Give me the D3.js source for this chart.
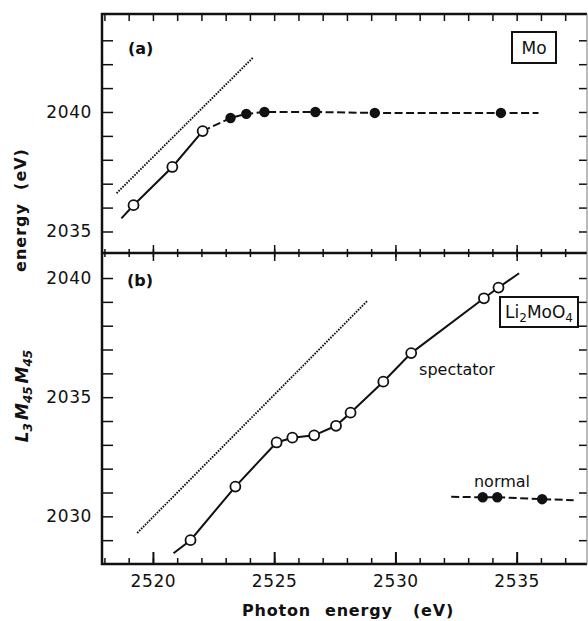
<!DOCTYPE html>
<html>
<head>
<meta charset="utf-8">
<script src="https://cdn.jsdelivr.net/npm/d3@7"></script>
<style>
  body { margin: 0; background: #fff; }
  svg { display: block; }
  text { font-family: "DejaVu Sans", sans-serif; fill: #111; }
</style>
</head>
<body>
<svg width="588" height="621"></svg>
<script>
// panel (a): Mo
const aLineX = [2518.7, 2519.2, 2520.8, 2522.05]
const aLineY = [2035.55, 2036.1, 2037.7, 2039.2]
const aDashX = [2522.05, 2523.2, 2523.85, 2524.6, 2526.7, 2529.15, 2534.35, 2535.9]
const aDashY = [2039.2, 2039.75, 2039.92, 2040.0, 2040.0, 2039.96, 2039.96, 2039.96]
const aDotX = [2518.5, 2524.15]
const aDotY = [2036.6, 2042.3]

// panel (b): Li2MoO4
const bSpecX = [2520.85, 2521.55, 2523.4, 2525.1, 2525.75, 2526.65, 2527.55, 2528.15, 2529.5, 2530.65, 2533.65, 2534.25, 2535.1]
const bSpecY = [2028.45, 2029.0, 2031.25, 2033.1, 2033.3, 2033.4, 2033.8, 2034.35, 2035.65, 2036.85, 2039.15, 2039.6, 2040.2]
const bNormX = [2532.3, 2533.6, 2534.2, 2536.05, 2537.35]
const bNormY = [2030.82, 2030.8, 2030.8, 2030.72, 2030.68]
const bDotX = [2519.35, 2528.85]
const bDotY = [2029.3, 2039.05]

const xTicks = [2520, 2525, 2530, 2535]
const aTicks = [2035, 2040]
const bTicks = [2030, 2035, 2040]

const svg = d3.select("svg")

const plotL = 102, plotR = 587, plotT = 14, plotM = 253, plotB = 564

const x = d3.scaleLinear().domain([2517.9, 2537.9]).range([plotL, plotR])
const ya = d3.scaleLinear().domain([2034.1, 2044.1]).range([plotM, plotT])
const yb = d3.scaleLinear().domain([2028.0, 2041.05]).range([plotB, plotM])

const zip = (xs, ys) => xs.map((v, i) => [v, ys[i]])

const xMinor = d3.range(2518, 2538, 1)
const frame = svg.append("g")

const tickStyle = g => {
    g.select(".domain").remove()
    g.selectAll("line").attr("stroke", "#111").attr("stroke-width", 1.5)
}
const labelStyle = sel => sel
    .style("font-size", "17px")
    .style("font-family", "DejaVu Sans, sans-serif")
    .attr("letter-spacing", 0.6)
    .attr("fill", "#111")

// bottom axis
frame.append("g")
    .attr("transform", `translate(0,${plotB})`)
    .call(d3.axisTop(x).tickValues(xMinor).tickSize(6).tickFormat(""))
    .call(tickStyle)
frame.append("g")
    .attr("transform", `translate(0,${plotB})`)
    .call(d3.axisTop(x).tickValues(xTicks).tickSize(12).tickFormat(""))
    .call(tickStyle)
    .selectAll("line").attr("stroke-width", 2)
frame.append("g")
    .attr("transform", `translate(0,${plotB})`)
    .call(d3.axisBottom(x).tickValues(xTicks).tickSize(0).tickPadding(11).tickFormat(d3.format("d")))
    .call(g => g.select(".domain").remove())
    .selectAll("text")
    .call(labelStyle)

// divider ticks both sides
frame.append("g")
    .attr("transform", `translate(0,${plotM - 4})`)
    .call(d3.axisBottom(x).tickValues(xMinor).tickSize(8).tickFormat(""))
    .call(tickStyle)
frame.append("g")
    .attr("transform", `translate(0,${plotM - 8})`)
    .call(d3.axisBottom(x).tickValues(xTicks).tickSize(16).tickFormat(""))
    .call(tickStyle)

// top ticks
frame.append("g")
    .attr("transform", `translate(0,${plotT})`)
    .call(d3.axisBottom(x).tickValues(xMinor).tickSize(7).tickFormat(""))
    .call(tickStyle)

// y axes
const yAxis = (scale, lo, hi, labels) => {
    const minor = d3.range(lo, hi + 1, 1)
    frame.append("g")
        .attr("transform", `translate(${plotL},0)`)
        .call(d3.axisRight(scale).tickValues(minor).tickSize(11).tickFormat(""))
        .call(tickStyle)
    frame.append("g")
        .attr("transform", `translate(${plotR},0)`)
        .call(d3.axisLeft(scale).tickValues(minor).tickSize(8).tickFormat(""))
        .call(tickStyle)
    frame.append("g")
        .attr("transform", `translate(${plotL},0)`)
        .call(d3.axisLeft(scale).tickValues(labels).tickSize(0).tickPadding(10).tickFormat(d3.format("d")))
        .call(g => g.select(".domain").remove())
        .selectAll("text")
        .call(labelStyle)
}
yAxis(ya, 2035, 2043, aTicks)
yAxis(yb, 2029, 2040, bTicks)

// frame lines
frame.append("path")
    .attr("d", `M${plotR},${plotT}H${plotL}V${plotB}H${plotR}`)
    .attr("fill", "none").attr("stroke", "#111").attr("stroke-width", 2.5)
frame.append("line")
    .attr("x1", plotL).attr("x2", plotR).attr("y1", plotM).attr("y2", plotM)
    .attr("stroke", "#111").attr("stroke-width", 2.5)
frame.append("line")
    .attr("x1", plotR).attr("x2", plotR).attr("y1", plotT).attr("y2", plotB)
    .attr("stroke", "#777").attr("stroke-width", 1)

const drawLine = (pts, ys, dash, width) => svg.append("path")
    .datum(pts)
    .attr("d", d3.line().x(d => x(d[0])).y(d => ys(d[1])))
    .attr("fill", "none")
    .attr("stroke", "#111")
    .attr("stroke-width", width)
    .attr("stroke-dasharray", dash)

const drawDots = (pts, ys, filled, r) => svg.append("g")
    .selectAll("circle")
    .data(pts)
    .enter()
    .append("circle")
    .attr("cx", d => x(d[0]))
    .attr("cy", d => ys(d[1]))
    .attr("r", r)
    .attr("fill", filled ? "#111" : "#fff")
    .attr("stroke", "#111")
    .attr("stroke-width", 1.8)

// panel (a)
const aLine = zip(aLineX, aLineY)
const aDash = zip(aDashX, aDashY)
drawLine(zip(aDotX, aDotY), ya, "1.6,1.2", 1.9)
drawLine(aLine, ya, null, 2)
drawLine(aDash, ya, "8,3.5", 2)
drawDots(aLine.slice(1), ya, false, 5)
drawDots(aDash.slice(1, -1), ya, true, 4.3)

// panel (b)
const bSpec = zip(bSpecX, bSpecY)
const bNorm = zip(bNormX, bNormY)
drawLine(zip(bDotX, bDotY), yb, "1.6,1.2", 1.9)
drawLine(bSpec, yb, null, 2)
drawLine(bNorm, yb, "8,3.5", 2)
drawDots(bSpec.slice(1, -1), yb, false, 5)
drawDots(bNorm.slice(1, -1), yb, true, 4.3)

// annotations
svg.append("text").attr("x", 128).attr("y", 54).style("font-size", "16px").style("font-weight", "bold").text("(a)")
svg.append("text").attr("x", 127).attr("y", 286).style("font-size", "16px").style("font-weight", "bold").text("(b)")

const box = (cx, cy, w, h) => {
    const g = svg.append("g").attr("transform", `translate(${cx},${cy})`)
    g.append("rect").attr("x", -w / 2).attr("y", -h / 2).attr("width", w).attr("height", h)
        .attr("fill", "#fff").attr("stroke", "#111").attr("stroke-width", 2)
    return g.append("text").attr("text-anchor", "middle").attr("dy", "0.36em").style("font-size", "17px")
}
box(534, 47.5, 44, 31).text("Mo")
const li = box(539, 312, 78, 30)
li.append("tspan").text("Li")
li.append("tspan").attr("dy", 4).style("font-size", "12px").text("2")
li.append("tspan").attr("dy", -4).text("MoO")
li.append("tspan").attr("dy", 4).style("font-size", "12px").text("4")

svg.append("text").attr("x", 457).attr("y", 375).attr("text-anchor", "middle").style("font-size", "16px").text("spectator")
svg.append("text").attr("x", 502).attr("y", 487).attr("text-anchor", "middle").style("font-size", "16px").text("normal")

// axis titles
const xt = svg.append("text").attr("x", 242).attr("y", 616).style("font-size", "16px").style("font-weight", "bold").attr("letter-spacing", 0.8)
xt.append("tspan").text("Photon")
xt.append("tspan").attr("x", 325).text("energy")
xt.append("tspan").attr("x", 413).text("(eV)")

svg.append("text")
    .attr("transform", "translate(26,210) rotate(-90)")
    .attr("text-anchor", "middle")
    .style("font-size", "16px").style("font-weight", "bold").attr("letter-spacing", 1)
    .attr("xml:space", "preserve")
    .text("energy  (eV)")

const yl = svg.append("text")
    .attr("transform", "translate(28,396) rotate(-90)")
    .attr("text-anchor", "middle")
    .style("font-size", "17px").style("font-weight", "bold").style("font-style", "italic")
yl.append("tspan").text("L")
yl.append("tspan").attr("dy", 4).style("font-size", "12px").text("3")
yl.append("tspan").attr("dy", -4).attr("dx", 3).text("M")
yl.append("tspan").attr("dy", 4).style("font-size", "12px").text("45")
yl.append("tspan").attr("dy", -4).attr("dx", 3).text("M")
yl.append("tspan").attr("dy", 4).style("font-size", "12px").text("45")
</script>
</body>
</html>
